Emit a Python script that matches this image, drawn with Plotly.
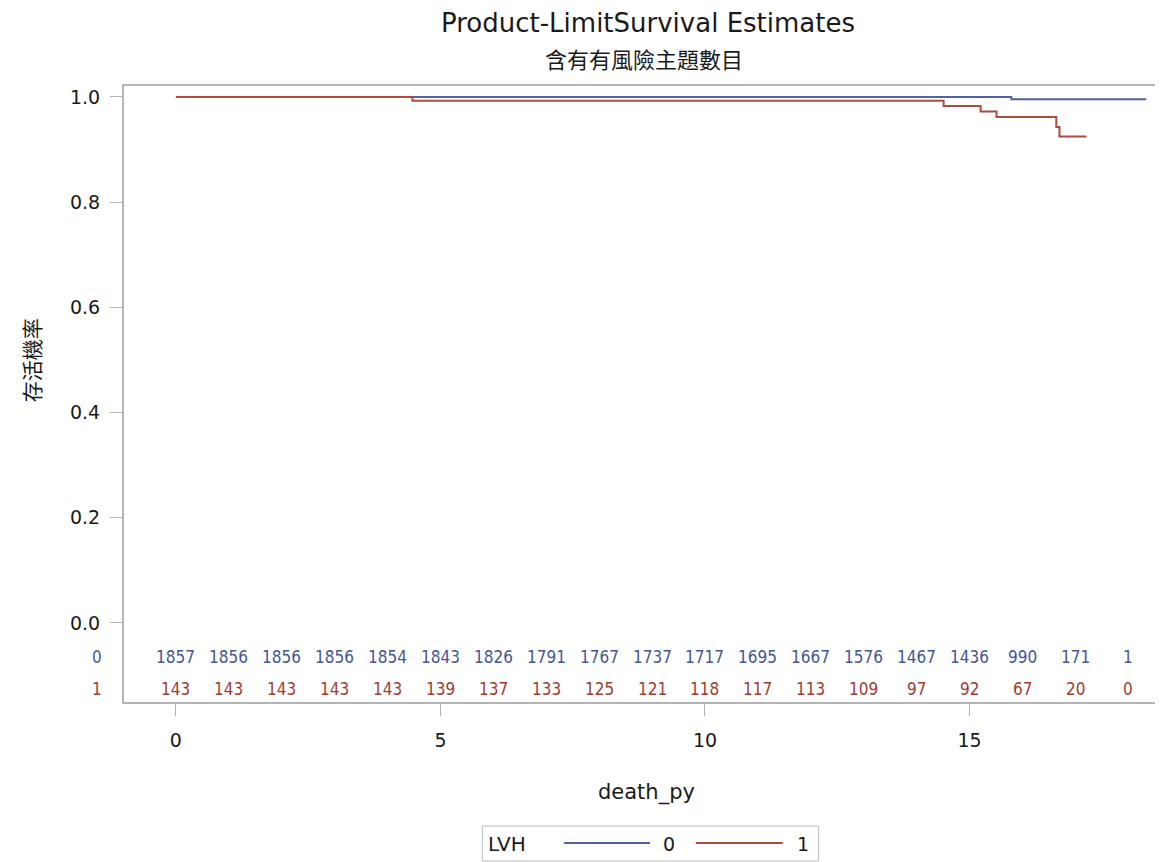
import plotly.graph_objects as go

# ---- data ----
red_time = [0, 4.47, 14.51, 15.21, 15.51, 16.64, 16.70, 17.21]
red_surv = [1.0, 0.993, 0.983, 0.9726, 0.962, 0.943, 0.925, 0.925]
blue_time = [0, 15.79, 18.34]
blue_surv = [1.0, 0.9956, 0.9956]

risk_times = list(range(0, 19))
risk_0 = [1857, 1856, 1856, 1856, 1854, 1843, 1826, 1791, 1767, 1737, 1717,
          1695, 1667, 1576, 1467, 1436, 990, 171, 1]
risk_1 = [143, 143, 143, 143, 143, 139, 137, 133, 125, 121, 118, 117, 113,
          109, 97, 92, 67, 20, 0]

group_names = ["0", "1"]
x_ticks = [0, 5, 10, 15]
y_ticks = [0.0, 0.2, 0.4, 0.6, 0.8, 1.0]

BLUE = "#5262A0"
RED = "#AE4A3E"
BLUE_TXT = "#445694"
RED_TXT = "#A23A2E"
FRAME = "#B4B4B4"

# screen geometry (page has an 8px body margin)
OFF = 8
PL, PR, PT, PB = 124, 1162, 86, 702   # plot area in screen pixels
W, H = 1163 - OFF, 862 - OFF
L, T = PL - OFF, PT - OFF
R = W - (PR - OFF)
B = H - (PB - OFF)


def py(p):
    """screen pixel row -> paper y"""
    return (PB - p) / (PB - PT)


def px(p):
    return (p - PL) / (PR - PL)


fig = go.Figure()
fig.add_trace(go.Scatter(x=blue_time, y=blue_surv, mode="lines", line_shape="hv",
                         line=dict(color=BLUE, width=2), name="0", showlegend=False))
fig.add_trace(go.Scatter(x=red_time, y=red_surv, mode="lines", line_shape="hv",
                         line=dict(color=RED, width=2), name="1", showlegend=False))

ann = []


def text(x, y, s, size, color="#1a1a1a", family="DejaVu Sans", xref="paper",
         xanchor="center", angle=0):
    ann.append(dict(x=x, y=y, xref=xref, yref="paper", text=s, showarrow=False,
                    xanchor=xanchor, yanchor="middle", textangle=angle,
                    font=dict(family=family, size=size, color=color)))


risk_font = "Liberation Sans Narrow, DejaVu Sans Condensed, Arial Narrow, sans-serif"
RS = 17
for t, v in zip(risk_times, risk_0):
    text(t, py(657), str(v), RS, BLUE_TXT, risk_font, xref="x")
for t, v in zip(risk_times, risk_1):
    text(t, py(689), str(v), RS, RED_TXT, risk_font, xref="x")
text(px(97), py(657), group_names[0], RS, BLUE_TXT, risk_font)
text(px(97), py(689), group_names[1], RS, RED_TXT, risk_font)

# titles
text(px(649), py(23), "Product-LimitSurvival Estimates", 26)
text(px(645), py(58), "含有有風險主題數目", 22, family="Noto Sans CJK TC")
text(px(648), py(792), "death_py", 21)
text(px(31), py(360), "存活機率", 21, family="Noto Sans CJK TC", angle=-90)

# manual legend
shapes = [dict(type="rect", xref="paper", yref="paper", x0=px(483), x1=px(820),
               y0=py(826), y1=py(861), line=dict(color="#BDBDBD", width=1),
               fillcolor="rgba(0,0,0,0)")]
shapes.append(dict(type="line", xref="paper", yref="paper", x0=px(565), x1=px(651),
                   y0=py(843), y1=py(843), line=dict(color=BLUE, width=2)))
shapes.append(dict(type="line", xref="paper", yref="paper", x0=px(697), x1=px(784),
                   y0=py(843), y1=py(843), line=dict(color=RED, width=2)))
text(px(487), py(844), "LVH", 20, xanchor="left")
text(px(662), py(844), group_names[0], 19, xanchor="left")
text(px(796), py(844), group_names[1], 19, xanchor="left")

fig.update_layout(
    width=W, height=H,
    margin=dict(l=L, r=R, t=T, b=B),
    paper_bgcolor="white", plot_bgcolor="white",
    annotations=ann, shapes=shapes, showlegend=False,
    xaxis=dict(range=[-0.981, 18.60], tickvals=x_ticks, ticktext=[str(v) for v in x_ticks],
               showgrid=False, zeroline=False, showline=True, linecolor=FRAME, linewidth=2,
               mirror=True, ticks="outside", ticklen=12, tickcolor=FRAME, tickwidth=1,
               ticklabelstandoff=8,
               tickfont=dict(family="DejaVu Sans", size=19, color="#1a1a1a")),
    yaxis=dict(range=[-0.1502, 1.0209], tickvals=y_ticks,
               ticktext=[f"{v:.1f}" for v in y_ticks],
               showgrid=False, zeroline=False, showline=True, linecolor=FRAME, linewidth=2,
               mirror=True, ticks="outside", ticklen=12, tickcolor=FRAME, tickwidth=1,
               ticklabelstandoff=6,
               tickfont=dict(family="DejaVu Sans", size=19, color="#1a1a1a")),
)

fig.write_html("out.html")
